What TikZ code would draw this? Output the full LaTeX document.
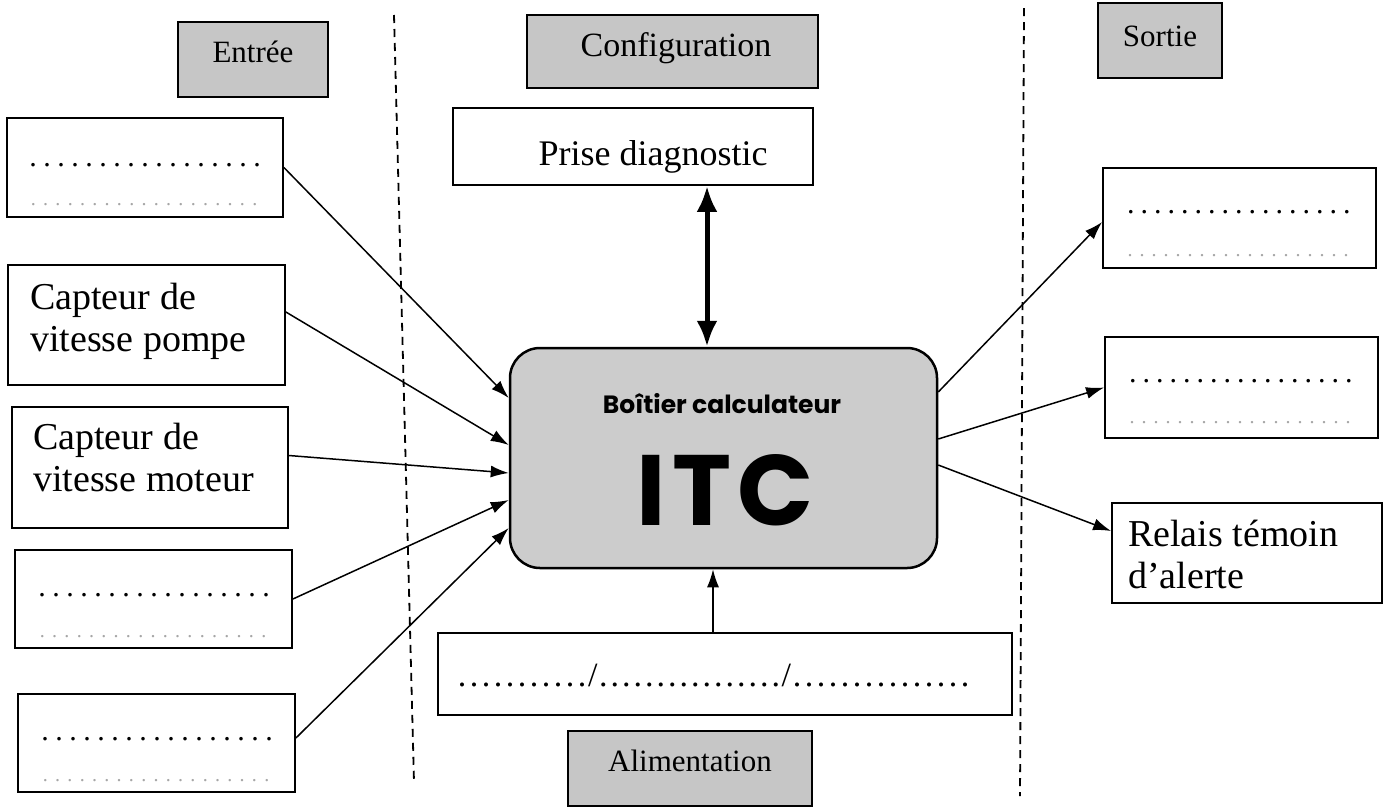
\documentclass[tikz,border=0pt]{standalone}
\usepackage{fontspec}
\setmainfont{Liberation Serif}
\newfontfamily\comicfont{Poppins}
\usetikzlibrary{arrows.meta}
\newcommand\dotrow[2]{\foreach \i in {1,...,#1}{\makebox[#2]{.}}}
\tikzset{
  box/.style={draw, line width=1.8pt, inner sep=0pt, fill=white},
  hdr/.style={draw, line width=1.8pt, inner sep=0pt, fill=gray!45},
  lbl/.style={inner sep=0pt, font=\fontsize{38}{42}\selectfont, align=left},
  hdrtxt/.style={inner sep=0pt, font=\fontsize{31}{36}\selectfont},
  dots/.style={inner sep=0pt, font=\fontsize{30}{36}\selectfont},
  fdots/.style={inner sep=0pt, font=\fontsize{20}{24}\selectfont, text=gray!70},
  arr/.style={line width=1.5pt, -{Latex[length=18pt,width=12pt]}},
  sep/.style={line width=1.8pt, dash pattern=on 8pt off 6pt},
}
\begin{document}
\begin{tikzpicture}[x=1pt,y=-1pt]
\useasboundingbox (0,0) rectangle (1391,807);

% separators
\draw[sep] (394,15) -- (414,782);
\draw[sep] (1024,8) -- (1020,796);

% headers
\node[hdr, minimum width=150pt, minimum height=75pt] (hE) at (253,59.5) {};
\node[hdrtxt, anchor=base] (tE) at (253,62) {Entrée};
\node[hdr, minimum width=291pt, minimum height=73pt] (hC) at (672.5,51.5) {};
\node[hdrtxt, anchor=base, font=\fontsize{34}{38}\selectfont] (tC) at (676,56) {Configuration};
\node[hdr, minimum width=124pt, minimum height=75pt] (hS) at (1160,40.5) {};
\node[hdrtxt, anchor=base] (tS) at (1160,46) {Sortie};
\node[hdr, minimum width=244pt, minimum height=75pt] (hA) at (690,768.5) {};
\node[hdrtxt, anchor=base] (tA) at (690,771) {Alimentation};

% left boxes
\node[box, minimum width=276pt, minimum height=99pt] (b1) at (145,167.5) {};
\node[dots, anchor=base west] (b1d) at (26,166) {\dotrow{17}{14pt}};
\node[fdots, anchor=base west] (b1e) at (27,205) {\dotrow{19}{12.3pt}};

\node[box, minimum width=277pt, minimum height=120pt] (b2) at (146.5,325) {};
\node[lbl, anchor=north west] (b2t) at (30,283) {Capteur de\\vitesse pompe};

\node[box, minimum width=276pt, minimum height=121pt] (b3) at (150,467.5) {};
\node[lbl, anchor=north west] (b3t) at (33,423) {Capteur de\\vitesse moteur};

\node[box, minimum width=277pt, minimum height=98pt] (b4) at (153.5,599) {};
\node[dots, anchor=base west] (b4d) at (35,596) {\dotrow{17}{14pt}};
\node[fdots, anchor=base west] (b4e) at (36,637) {\dotrow{19}{12.3pt}};

\node[box, minimum width=277pt, minimum height=98pt] (b5) at (156.5,743) {};
\node[dots, anchor=base west] (b5d) at (38,740) {\dotrow{17}{14pt}};
\node[fdots, anchor=base west] (b5e) at (39,781) {\dotrow{19}{12.3pt}};

% center
\node[box, minimum width=360pt, minimum height=77pt] (prise) at (633,146.5) {};
\node[inner sep=0pt, font=\fontsize{36}{42}\selectfont, anchor=base] (pt) at (653,165) {Prise diagnostic};

\node[draw, line width=2.5pt, fill=gray!40, rounded corners=30pt, minimum width=427pt, minimum height=220pt, inner sep=0pt] (itc) at (723.5,458) {};
\node[inner sep=0pt, font=\comicfont\bfseries\fontsize{25}{28}\selectfont, anchor=base] (itc1) at (722,413) {Boîtier calculateur};
\node[inner sep=0pt, font=\comicfont\bfseries\fontsize{100}{110}\selectfont, anchor=base] (itc2) at (725,525) {I\kern6pt T\kern6pt C};

\node[box, minimum width=574pt, minimum height=82pt] (alim) at (725,674) {};
\node[dots, anchor=base west, font=\fontsize{34}{38}\selectfont] (alimt) at (456,686) {\dotrow{11}{12pt}/\dotrow{16}{11.5pt}/\dotrow{15}{12pt}};

% right boxes
\node[box, minimum width=273pt, minimum height=100pt] (r1) at (1239.5,218) {};
\node[dots, anchor=base west] (r1d) at (1124,213) {\dotrow{17}{13.5pt}};
\node[fdots, anchor=base west] (r1e) at (1124,256) {\dotrow{19}{12pt}};

\node[box, minimum width=273pt, minimum height=101pt] (r2) at (1241.5,387.5) {};
\node[dots, anchor=base west] (r2d) at (1126,382) {\dotrow{17}{13.5pt}};
\node[fdots, anchor=base west] (r2e) at (1126,423) {\dotrow{19}{12pt}};

\node[box, minimum width=270pt, minimum height=100pt] (r3) at (1247,553) {};
\node[lbl, anchor=north west] (r3t) at (1128,520) {Relais témoin\\d’alerte};

% connectors
\draw[arr] (b1.east) -- ([yshift=60pt]itc.west);
\draw[arr] ([yshift=13pt]b2.east) -- ([yshift=13pt]itc.west);
\draw[arr] ([yshift=12pt]b3.east) -- ([yshift=-15pt]itc.west);
\draw[arr] (b4.east) -- ([yshift=-42pt]itc.west);
\draw[arr] ([yshift=5pt]b5.east) -- ([yshift=-70pt]itc.west);

\draw[line width=5pt, {Latex[length=26pt,width=21pt]}-{Latex[length=26pt,width=21pt]}] ([xshift=74pt]prise.south) -- ([xshift=-16.5pt]itc.north);
\draw[arr] ([xshift=-12pt]alim.north) -- ([xshift=-10.5pt]itc.south);

\draw[arr] ([yshift=66pt]itc.east) -- ([yshift=-4pt]r1.west);
\draw[arr] ([yshift=19pt]itc.east) -- (r2.west);
\draw[arr] ([yshift=-7pt]itc.east) -- ([yshift=22pt]r3.west);
\end{tikzpicture}
\end{document}
